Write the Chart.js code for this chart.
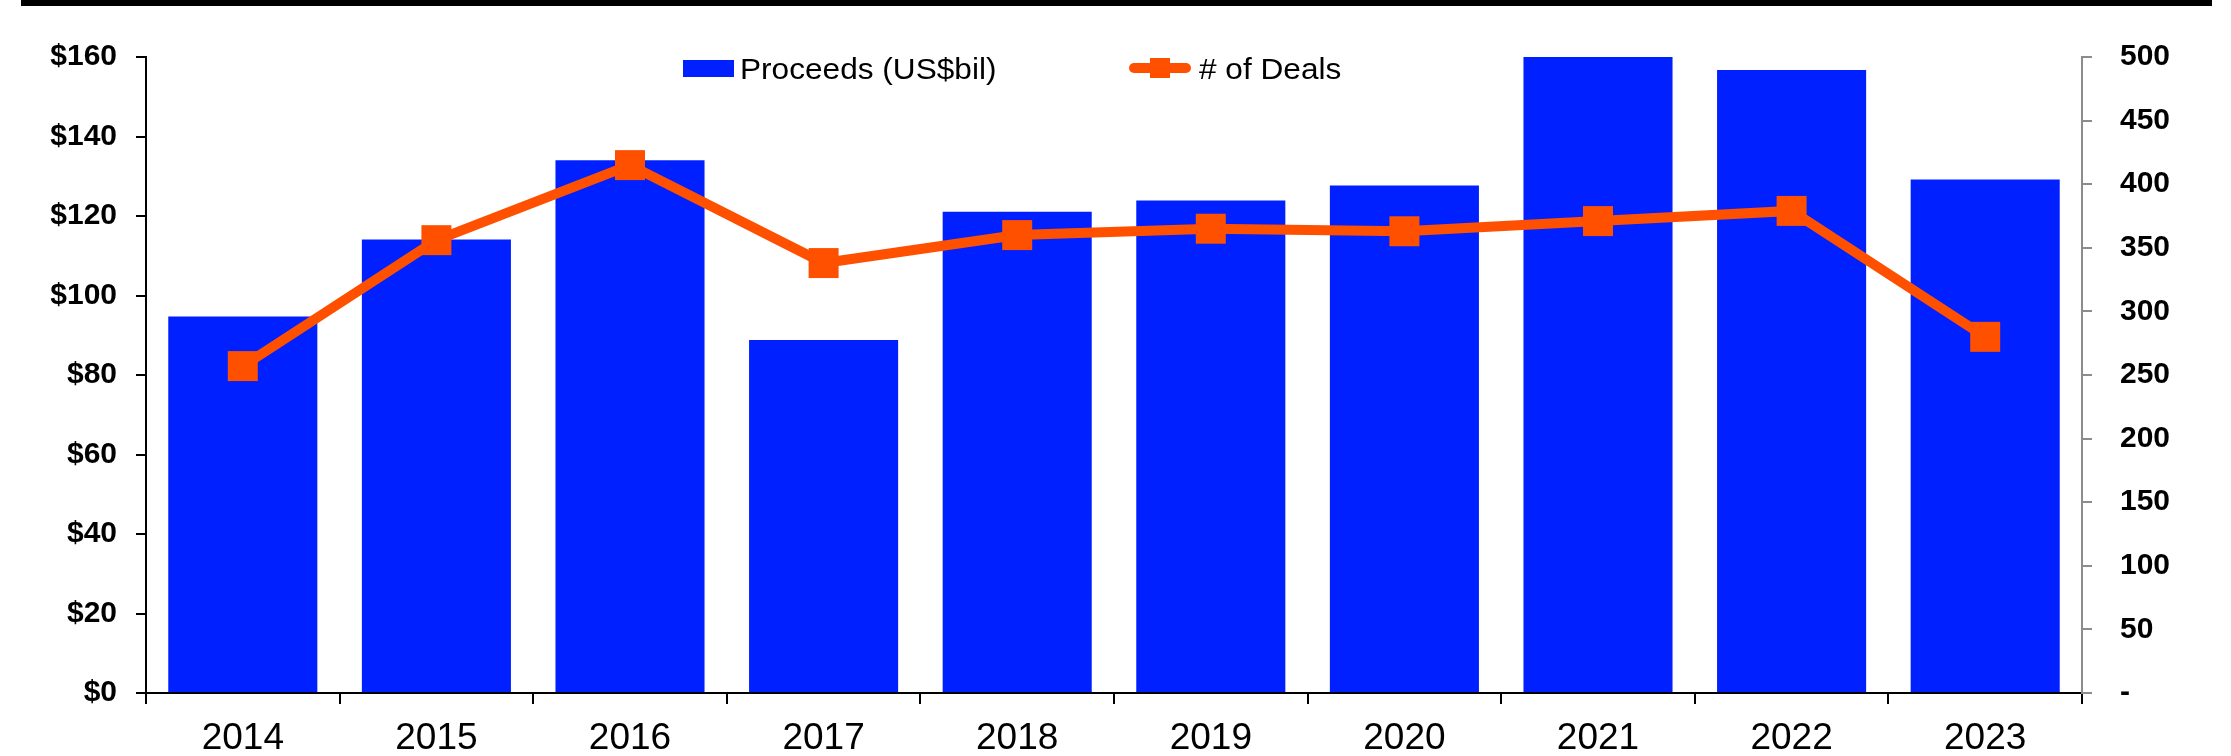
<!DOCTYPE html>
<html>
<head>
<meta charset="utf-8">
<script src="https://cdn.jsdelivr.net/npm/chart.js@4"></script>
<style>
  html, body { margin: 0; padding: 0; background: #ffffff; }
  #wrap { position: relative; width: 2231px; height: 756px; overflow: hidden; }
  #topBand { position: absolute; left: 21px; top: 0; width: 2191px; height: 6px; background: #000000; }
  canvas { position: absolute; left: 0; top: 0; }
</style>
</head>
<body>
<div id="wrap">
  <canvas id="chart" width="2231" height="756"></canvas>
  <div id="topBand"></div>
</div>
<script>
// Annual proceeds and deal counts
const years = ['2014', '2015', '2016', '2017', '2018', '2019', '2020', '2021', '2022', '2023'];
const proceeds = [94.7, 114.1, 134.0, 88.8, 121.1, 123.9, 127.7, 160.0, 156.7, 129.2];
const deals = [257, 356, 415, 338, 360, 365, 363, 371, 379, 280];

const proceedsTicks = [0, 20, 40, 60, 80, 100, 120, 140, 160];
const dealsTicks = [0, 50, 100, 150, 200, 250, 300, 350, 400, 450, 500];

const BLUE = 'rgb(0, 32, 255)';
const ORANGE = 'rgb(255, 80, 0)';
const AXIS_GREY = '#8c8c8c';

const tickFont = { family: '"Liberation Sans", Arial, sans-serif', size: 30, weight: 'bold' };
const catFont = { family: '"Liberation Sans", Arial, sans-serif', size: 37, weight: 'normal' };

// Legend drawn as one row: filled box for the bars, line-with-square for the deals
const rowLegend = {
  id: 'rowLegend',
  afterDraw(chart) {
    const ctx = chart.ctx;
    const bar = chart.data.datasets[1];
    const line = chart.data.datasets[0];
    const stretch = 1.09;
    ctx.save();
    ctx.font = 'normal 29px "Liberation Sans", Arial, sans-serif';
    ctx.textBaseline = 'alphabetic';
    ctx.textAlign = 'left';

    // bar swatch
    ctx.fillStyle = bar.backgroundColor;
    ctx.fillRect(683, 60, 51, 17);
    ctx.fillStyle = '#000000';
    ctx.save();
    ctx.translate(740, 79);
    ctx.scale(stretch, 1);
    ctx.fillText(bar.label, 0, 0);
    ctx.restore();

    // line swatch
    ctx.strokeStyle = line.borderColor;
    ctx.lineWidth = 10;
    ctx.lineCap = 'round';
    ctx.beginPath();
    ctx.moveTo(1134, 68);
    ctx.lineTo(1186, 68);
    ctx.stroke();
    ctx.fillStyle = line.pointBackgroundColor;
    ctx.fillRect(1150, 58, 20, 20);
    ctx.fillStyle = '#000000';
    ctx.save();
    ctx.translate(1199, 79);
    ctx.scale(stretch, 1);
    ctx.fillText(line.label, 0, 0);
    ctx.restore();
    ctx.restore();
  }
};

new Chart(document.getElementById('chart'), {
  data: {
    labels: years,
    datasets: [
      {
        type: 'line',
        label: '# of Deals',
        data: deals,
        yAxisID: 'yDeals',
        borderColor: ORANGE,
        backgroundColor: ORANGE,
        borderWidth: 10,
        tension: 0,
        pointStyle: 'rect',
        pointRadius: 21.2,
        pointBackgroundColor: ORANGE,
        pointBorderWidth: 0,
        pointHoverRadius: 21.2,
        order: 0,
        clip: false
      },
      {
        type: 'bar',
        label: 'Proceeds (US$bil)',
        data: proceeds,
        yAxisID: 'yProceeds',
        backgroundColor: BLUE,
        borderWidth: 0,
        barPercentage: 0.77,
        categoryPercentage: 1.0,
        order: 1
      }
    ]
  },
  options: {
    responsive: false,
    animation: false,
    devicePixelRatio: 1,
    layout: { padding: { top: 57, left: 0, right: 0, bottom: 0 } },
    plugins: {
      legend: { display: false },
      tooltip: { enabled: false },
      title: { display: false }
    },
    scales: {
      x: {
        type: 'category',
        offset: true,
        grid: {
          offset: true,
          drawOnChartArea: false,
          drawTicks: true,
          tickLength: 11,
          color: '#000000',
          lineWidth: 2
        },
        border: { display: true, color: '#000000', width: 2 },
        ticks: { color: '#000000', font: catFont, padding: 13, maxRotation: 0, autoSkip: false },
        afterFit(scale) { scale.height = 756 - 693; }
      },
      yProceeds: {
        type: 'linear',
        position: 'left',
        min: 0,
        max: 160,
        afterBuildTicks(scale) { scale.ticks = proceedsTicks.map(v => ({ value: v })); },
        grid: {
          drawOnChartArea: false,
          drawTicks: true,
          tickLength: 10,
          color: '#000000',
          lineWidth: 2
        },
        border: { display: true, color: '#000000', width: 2 },
        ticks: {
          color: '#000000',
          font: tickFont,
          padding: 19,
          callback: v => '$' + v
        },
        afterFit(scale) { scale.width = 146; }
      },
      yDeals: {
        type: 'linear',
        position: 'right',
        min: 0,
        max: 500,
        afterBuildTicks(scale) { scale.ticks = dealsTicks.map(v => ({ value: v })); },
        grid: {
          drawOnChartArea: false,
          drawTicks: true,
          tickLength: 10,
          color: AXIS_GREY,
          lineWidth: 2
        },
        border: { display: true, color: AXIS_GREY, width: 2 },
        ticks: {
          color: '#000000',
          font: tickFont,
          padding: 28,
          callback: v => (v === 0 ? '-' : String(v))
        },
        afterFit(scale) { scale.width = 2231 - 2082; }
      }
    }
  },
  plugins: [rowLegend]
});
</script>
</body>
</html>
